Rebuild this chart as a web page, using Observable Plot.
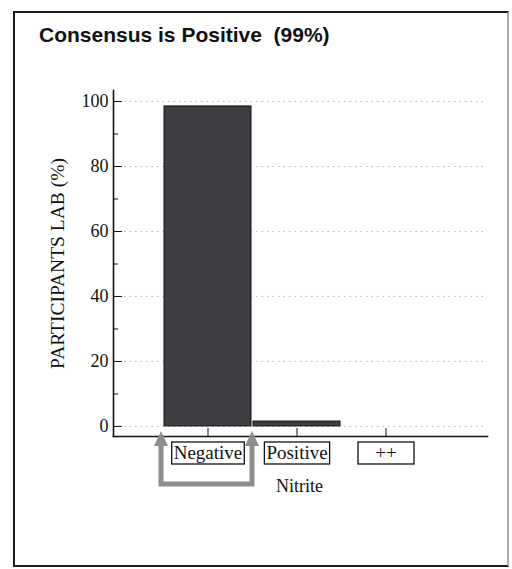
<!DOCTYPE html>
<html><head><meta charset="utf-8">
<script src="https://cdn.jsdelivr.net/npm/d3@7"></script>
<script src="https://cdn.jsdelivr.net/npm/@observablehq/plot@0.6"></script>
<style>
body{margin:0;background:#fff;width:512px;height:569px;overflow:hidden;position:relative;}
#frame{position:absolute;left:13px;top:11px;width:492px;height:552px;border:2px solid #1a1a1a;border-right-color:#aaa;}
#title{position:absolute;left:39px;top:24px;font:bold 21px "Liberation Sans",Arial,sans-serif;line-height:1;white-space:pre;color:#111;}
#chart{position:absolute;left:0;top:60px;}
</style></head><body>
<div id="frame"></div>
<div id="title"></div>
<div id="chart"></div>
<script>
const titleText = "Consensus is Positive  (99%)";
const categories = ["Negative", "Positive", "++"];
const percents = [98.5, 1.5, 0];
const yTicks = [0, 20, 40, 60, 80, 100];
const yMinorTicks = [10, 30, 50, 70, 90];
const xLabel = "Nitrite";
const yLabel = "PARTICIPANTS LAB (%)";

document.getElementById("title").textContent = titleText;
const data = categories.map((c, i) => ({category: c, value: percents[i]}));
const serif = '"Liberation Serif","Times New Roman",serif';

const plot = Plot.plot({
  width: 512, height: 460,
  marginTop: 30, marginBottom: 84, marginLeft: 113, marginRight: 25,
  style: {fontFamily: serif, background: "transparent", color: "#111"},
  x: {domain: categories, paddingInner: 0.02, paddingOuter: 0.588, align: 0.473},
  y: {domain: [-3.1, 103.4]},
  marks: [
    Plot.gridY(yTicks, {stroke: "#999", strokeOpacity: 0.7, strokeDasharray: "1.5,4"}),
    Plot.barY(data, {x: "category", y: "value", fill: "#3f3d42", stroke: "#111", strokeWidth: 1}),
    Plot.frame({anchor: "left", strokeWidth: 1.6}),
    Plot.frame({anchor: "bottom", strokeWidth: 1.6}),
    Plot.axisY(yTicks, {tickSize: -9, tickPadding: 14, fontSize: 18, tickFormat: d => d, label: null}),
    Plot.axisY(yMinorTicks, {tickSize: -5, tickFormat: () => "", label: null}),
    Plot.axisX({tickSize: -8, tickPadding: 17, fontSize: 19, label: null}),
    Plot.text([xLabel], {frameAnchor: "bottom", dy: 55, dx: -1, fontSize: 18}),
    Plot.text([yLabel], {frameAnchor: "left", textAnchor: "middle", rotate: -90, dx: -56, fontSize: 19.5})
  ]
});
document.getElementById("chart").appendChild(plot);

// boxes around the x tick labels
const svg = d3.select(plot);
svg.selectAll('g[aria-label="x-axis tick label"] text').each(function() {
  const b = this.getBBox();
  const w = Math.max(b.width + 4, 56);
  d3.select(this.parentNode).insert("rect", () => this)
    .attr("transform", this.getAttribute("transform"))
    .attr("x", b.x + b.width / 2 - w / 2).attr("y", b.y)
    .attr("width", w).attr("height", b.height + 1)
    .attr("fill", "#fff").attr("stroke", "#111").attr("stroke-width", 1.3);
});

// gray U-shaped arrow under the first bar, positioned from the scales
const xs = plot.scale("x"), ys = plot.scale("y");
const left = xs.apply(categories[0]) - 3;
const right = xs.apply(categories[0]) + xs.bandwidth + 1;
const tip = ys.apply(0) + 5;
const bottom = ys.apply(0) + 58;
const g = svg.append("g").attr("fill", "#8e8e8e").attr("stroke", "#8e8e8e");
g.append("path").attr("fill", "none").attr("stroke-width", 5)
  .attr("d", `M${left},${tip + 12}V${bottom}H${right}V${tip + 12}`);
for (const xx of [left, right]) {
  g.append("path").attr("stroke", "none")
    .attr("d", `M${xx},${tip}L${xx - 7},${tip + 15}L${xx + 7},${tip + 15}Z`);
}
</script>
</body></html>
